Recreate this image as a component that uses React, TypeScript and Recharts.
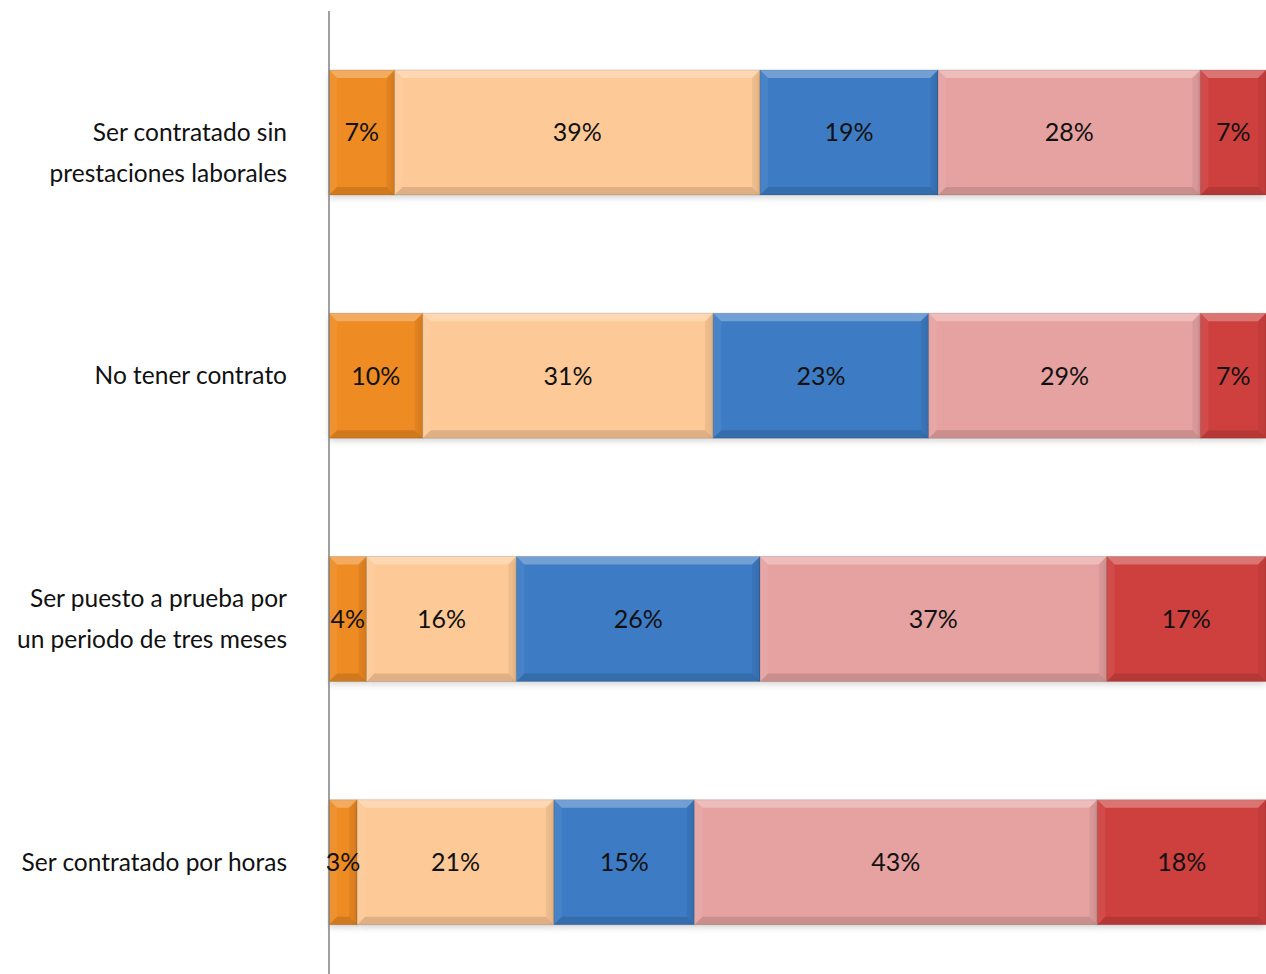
import React from "react";
import { BarChart, Bar, XAxis, YAxis, LabelList } from "recharts";

const categories = [
  "Ser contratado sin prestaciones laborales",
  "No tener contrato",
  "Ser puesto a prueba por un periodo de tres meses",
  "Ser contratado por horas",
];
const categoryLines = [
  ["Ser contratado sin", "prestaciones laborales"],
  ["No tener contrato"],
  ["Ser puesto a prueba por", "un periodo de tres meses"],
  ["Ser contratado por horas"],
];
const s1 = [7, 10, 4, 3];
const s2 = [39, 31, 16, 21];
const s3 = [19, 23, 26, 15];
const s4 = [28, 29, 37, 43];
const s5 = [7, 7, 17, 18];
const seriesKeys = ["s1", "s2", "s3", "s4", "s5"];
const colors = ["#EE8B22", "#FDC996", "#3D7CC4", "#E6A2A1", "#CE403E"];

const data = categories.map((c, i) => ({
  name: c,
  s1: s1[i],
  s2: s2[i],
  s3: s3[i],
  s4: s4[i],
  s5: s5[i],
}));

const FONT = "Lato, 'Open Sans', sans-serif";

const BevelBar = (props: any) => {
  const { x, y, width, height, fill } = props;
  if (!width || width <= 0) return null;
  const b = Math.min(8, width / 3);
  return (
    <g>
      <rect x={x} y={y + 3} width={width} height={height} fill="#000" opacity={0.16} filter="url(#barShadow)" />
      <rect x={x} y={y} width={width} height={height} fill={fill} />
      <polygon
        points={`${x},${y} ${x + width},${y} ${x + width - b},${y + b} ${x + b},${y + b}`}
        fill="#fff"
        opacity={0.28}
      />
      <polygon
        points={`${x},${y} ${x + b},${y + b} ${x + b},${y + height - b} ${x},${y + height}`}
        fill="#fff"
        opacity={0.06}
      />
      <polygon
        points={`${x + width},${y} ${x + width},${y + height} ${x + width - b},${y + height - b} ${x + width - b},${y + b}`}
        fill="#000"
        opacity={0.06}
      />
      <polygon
        points={`${x},${y + height} ${x + width},${y + height} ${x + width - b},${y + height - b} ${x + b},${y + height - b}`}
        fill="#000"
        opacity={0.12}
      />
      <rect x={x} y={y} width={width} height={height} fill="none" stroke="#000" strokeOpacity={0.12} strokeWidth={1} />
    </g>
  );
};

const CategoryTick = (props: any) => {
  const { x, y, payload } = props;
  const idx = categories.indexOf(payload.value);
  const lines = idx >= 0 ? categoryLines[idx] : [payload.value];
  const lh = 41;
  // the first label in the original is anchored on its first line
  const start = idx === 0 ? 0 : -((lines.length - 1) * lh) / 2;
  return (
    <g transform={`translate(${x},${y})`}>
      {lines.map((l: string, i: number) => (
        <text
          key={i}
          x={0}
          y={start + i * lh}
          dy="0.35em"
          textAnchor="end"
          fill="#111"
          fontSize={24.5}
          fontFamily={FONT}
        >
          {l}
        </text>
      ))}
    </g>
  );
};

export default function App() {
  return (
    <div style={{ position: "fixed", left: 0, top: 0, width: 1266, height: 974, overflow: "hidden", background: "#fff" }}>
      <svg width={0} height={0} style={{ position: "absolute" }}>
        <defs>
          <filter id="barShadow" x="-5%" y="-10%" width="110%" height="130%">
            <feGaussianBlur stdDeviation="3" />
          </filter>
        </defs>
      </svg>
      <BarChart
        width={1266}
        height={984}
        data={data}
        layout="vertical"
        margin={{ top: 11, right: 0, bottom: 0, left: 0 }}
        barSize={125}
      >
        <XAxis type="number" domain={[0, 100]} hide />
        <YAxis
          type="category"
          dataKey="name"
          width={329}
          axisLine={{ stroke: "#808080", strokeWidth: 1.5 }}
          tickLine={false}
          tick={<CategoryTick />}
          tickMargin={36}
          interval={0}
        />
        {seriesKeys.map((k, i) => (
          <Bar
            key={k}
            dataKey={k}
            stackId="a"
            fill={colors[i]}
            shape={<BevelBar />}
            isAnimationActive={false}
          >
            <LabelList
              dataKey={k}
              position="center"
              formatter={(v: any) => `${v}%`}
              fill="#111"
              fontSize={25}
              fontFamily={FONT}
            />
          </Bar>
        ))}
      </BarChart>
    </div>
  );
}
